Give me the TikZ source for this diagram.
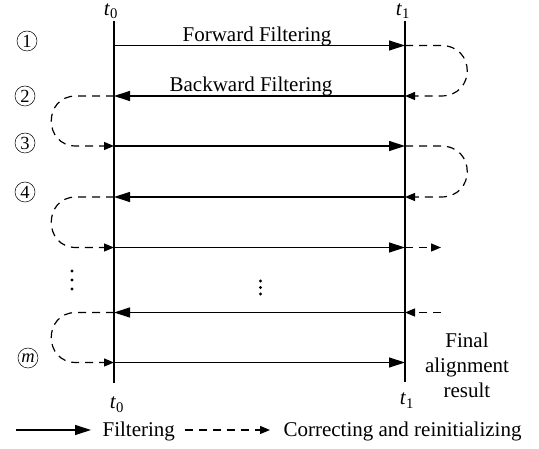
\documentclass[tikz,border=0pt]{standalone}
\usepackage{fontspec}
\setmainfont{Liberation Serif}
\usetikzlibrary{arrows.meta}
\begin{document}
\begin{tikzpicture}[x=1pt,y=-1pt,line width=1.2pt,
  flow/.style={-{Triangle[length=16pt,width=10pt]}},
  corr/.style={dash pattern=on 8pt off 6pt,-{Triangle[length=10pt,width=8pt]}},
  lbl/.style={font=\fontsize{21}{25}\selectfont,inner sep=0pt},
  tlbl/.style={font=\fontsize{21}{24}\selectfont,inner sep=0pt,anchor=base,
               text height=10pt,text depth=4pt},
  num/.style={circle,draw,line width=0.5pt,minimum size=20pt,inner sep=0pt,
              font=\fontsize{18.5}{18.5}\selectfont}]
\useasboundingbox (0,0) rectangle (539,449);

% time axes
\coordinate (t0top) at (114,21);
\coordinate (t0bot) at (114,383);
\coordinate (t1top) at (405,21);
\coordinate (t1bot) at (405,382);
\draw (t0top) -- (t0bot);
\draw (t1top) -- (t1bot);
\node[tlbl] (t0up) at (111,15.5) {\textit{t}\textsubscript{0}};
\node[tlbl] (t1up) at (403,15.5) {\textit{t}\textsubscript{1}};
\node[tlbl] (t0dn) at (117,409) {\textit{t}\textsubscript{0}};
\node[tlbl] (t1dn) at (407,405) {\textit{t}\textsubscript{1}};

% row anchors on both axes
\foreach \r/\y in {1/45.5,2/96,3/146,4/197,5/247.5,6/312.5,7/362.5}{
  \coordinate (a\r) at (114,\y);
  \coordinate (b\r) at (405,\y);
}
\coordinate (c5) at (441,247.5);
\coordinate (c6) at (441,312.5);

% step numbers
\node[num] (n1) at (27,41) {1};
\node[num] (n2) at (25,96) {2};
\node[num] (n3) at (25,143) {3};
\node[num] (n4) at (25,192) {4};
\node[num] (nm) at (28,358) {\textit{m}};

% filtering passes
\draw[flow] (a1) -- (b1);
\draw[flow] (b2) -- (a2);
\draw[flow] (a3) -- (b3);
\draw[flow] (b4) -- (a4);
\draw[flow] (a5) -- (b5);
\draw[flow] (b6) -- (a6);
\draw[flow] (a7) -- (b7);

\node[lbl,anchor=base] (fwd) at (257,42) {Forward Filtering};
\node[lbl,anchor=base] (bwd) at (251,92) {Backward Filtering};

% correcting and reinitializing at t1
\draw[corr] (b1) -- ++(36,0) .. controls +(35,0) and +(35,0) .. ([xshift=36pt]b2) -- (b2);
\draw[corr] (b3) -- ++(36,0) .. controls +(35,0) and +(35,0) .. ([xshift=36pt]b4) -- (b4);
\draw[corr] (b5) -- (c5);
\draw[corr] (c6) -- (b6);

% correcting and reinitializing at t0
\draw[corr] (a2) -- ++(-38,0) .. controls +(-33,0) and +(-33,0) .. ([xshift=-38pt]a3) -- (a3);
\draw[corr] (a4) -- ++(-38,0) .. controls +(-33,0) and +(-33,0) .. ([xshift=-38pt]a5) -- (a5);
\draw[corr] (a6) -- ++(-38,0) .. controls +(-33,0) and +(-33,0) .. ([xshift=-38pt]a7) -- (a7);

% omitted passes (vertical ellipses)
\foreach \y in {271,280,289} \fill (72,\y) circle (1.6pt);
\foreach \y in {281,287.5,294} \fill (260.5,\y) circle (1.6pt);

\node[lbl,align=center] (fin) at (467,365) {Final\\alignment\\result};

% legend
\coordinate (l1s) at (16,430);
\coordinate (l1e) at (91,430);
\coordinate (l2s) at (185,430);
\coordinate (l2e) at (270,430);
\draw[flow] (l1s) -- (l1e);
\node[lbl,anchor=base west] (lg1) at (102,437) {Filtering};
\draw[corr] (l2s) -- (l2e);
\node[lbl,anchor=base west] (lg2) at (283,437) {Correcting and reinitializing};
\end{tikzpicture}
\end{document}
